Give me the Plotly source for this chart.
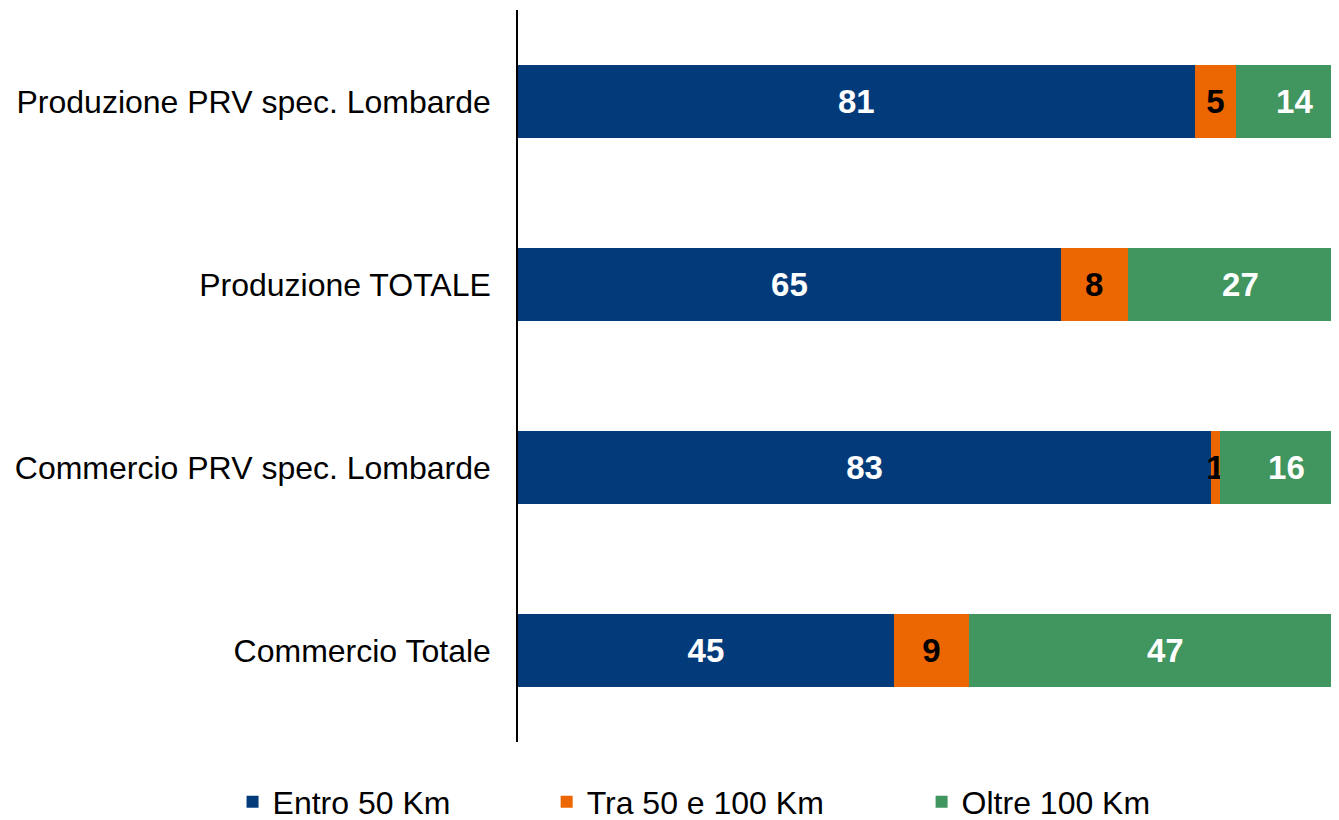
import plotly.graph_objects as go

categories = ["Produzione PRV spec. Lombarde", "Produzione TOTALE",
              "Commercio PRV spec. Lombarde", "Commercio Totale"]
entro_50 = [81, 65, 83, 45]
tra_50_100 = [5, 8, 1, 9]
oltre_100 = [14, 27, 16, 47]
series_names = ["Entro 50 Km", "Tra 50 e 100 Km", "Oltre 100 Km"]

colors = ["#033B7A", "#EC6602", "#41955F"]
text_colors = ["white", "black", "white"]
legend_ids = ["legend", "legend2", "legend3"]

fig = go.Figure()
for name, vals, col, tcol, lg in zip(series_names, [entro_50, tra_50_100, oltre_100],
                                    colors, text_colors, legend_ids):
    fig.add_trace(go.Bar(
        y=categories, x=vals, name=name, orientation="h",
        marker=dict(color=col, line=dict(width=0)),
        text=[str(v) for v in vals], textposition="inside",
        insidetextanchor="middle", constraintext="none", textangle=0,
        textfont=dict(family="Liberation Sans, Arial, sans-serif", size=33,
                      color=tcol, weight="bold"),
        legend=lg, showlegend=True, hoverinfo="skip",
    ))

font_fam = "Liberation Sans, Arial, sans-serif"
H = 812
leg_common = dict(orientation="h", xref="container", yref="container",
                  yanchor="middle", y=(H - 794) / H, xanchor="left",
                  font=dict(family=font_fam, size=32, color="black"),
                  bgcolor="rgba(0,0,0,0)")
fig.update_layout(
    width=1331, height=H,
    margin=dict(l=510, r=0, t=2, b=H - 734, autoexpand=False),
    barmode="stack", bargap=0.6, showlegend=True,
    plot_bgcolor="white", paper_bgcolor="white",
    font=dict(family=font_fam, size=32, color="black"),
    xaxis=dict(range=[0, 98.3], visible=False, showgrid=False, zeroline=False),
    yaxis=dict(categoryorder="array", categoryarray=categories, autorange="reversed",
               showline=True, linecolor="black", linewidth=1.5, ticks="",
               ticklabelstandoff=19, tickfont=dict(family=font_fam, size=32, color="black"),
               showgrid=False, zeroline=False),
    legend=dict(x=0.1687, **leg_common),
    legend2=dict(x=0.4047, **leg_common),
    legend3=dict(x=0.6864, **leg_common),
)

fig.write_html("out.html", config={"responsive": False})
